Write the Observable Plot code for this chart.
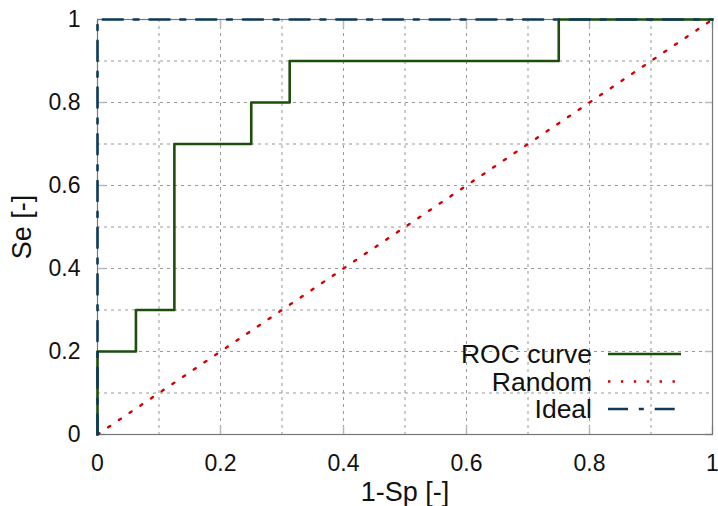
<!DOCTYPE html>
<html><head><meta charset="utf-8">
<script src="https://cdn.jsdelivr.net/npm/d3@7"></script>
<script src="https://cdn.jsdelivr.net/npm/@observablehq/plot@0.6"></script>
<style>
body{margin:0;background:#fff;font-family:"Liberation Sans",Arial,sans-serif;}
#wrap{position:relative;width:718px;height:506px;}
#legend{position:absolute;left:0;top:0;}
</style></head>
<body><div id="wrap"></div>
<script>
// ROC curve vertices (1-Sp, Se)
const rocX = [0, 0, 0.0625, 0.0625, 0.125, 0.125, 0.25, 0.25, 0.3125, 0.3125, 0.75, 0.75, 1];
const rocY = [0, 0.2, 0.2, 0.3, 0.3, 0.7, 0.7, 0.8, 0.8, 0.9, 0.9, 1, 1];
const randomX = [0, 1];
const randomY = [0, 1];
const idealX = [0, 0, 1];
const idealY = [0, 1, 1];
const majorTicks = [0, 0.2, 0.4, 0.6, 0.8, 1];
const gridTicks = [0.1, 0.2, 0.3, 0.4, 0.5, 0.6, 0.7, 0.8, 0.9];
const tickLabels = ["0", "0.2", "0.4", "0.6", "0.8", "1"];
const seriesNames = ["ROC curve", "Random", "Ideal"];
const xTitle = "1-Sp [-]";
const yTitle = "Se [-]";

const roc = rocX.map((x, i) => ({x, y: rocY[i]}));
const rnd = randomX.map((x, i) => ({x, y: randomY[i]}));
const ideal = idealX.map((x, i) => ({x, y: idealY[i]}));

const colors = {roc: "#1d4f0c", rnd: "#d40000", ideal: "#0c3a5a"};
const dashes = {roc: null, rnd: "2.4,10.5", ideal: "20,10.8,5,10.9"};
const fmt = d => tickLabels[majorTicks.indexOf(d)] ?? "";
const FONT = "Liberation Sans, Arial, sans-serif";

const chart = Plot.plot({
  width: 718, height: 506,
  marginLeft: 97, marginRight: 6, marginTop: 19, marginBottom: 72,
  x: {domain: [0, 1]},
  y: {domain: [0, 1]},
  style: {fontFamily: FONT, fontSize: "23px", color: "#111"},
  marks: [
    Plot.gridX(gridTicks, {stroke: "#999", strokeOpacity: 1, strokeWidth: 1, strokeDasharray: "3,4"}),
    Plot.gridY(gridTicks, {stroke: "#999", strokeOpacity: 1, strokeWidth: 1, strokeDasharray: "3,4"}),
    Plot.axisX(majorTicks, {anchor: "bottom", tickSize: 0, tickPadding: 20, tickFormat: fmt, label: null}),
    Plot.axisY(majorTicks, {anchor: "left", tickSize: 0, tickPadding: 17, tickFormat: fmt, label: null}),
    Plot.axisX(majorTicks, {anchor: "bottom", tickSize: -8, tickFormat: () => "", stroke: "#bbb", strokeWidth: 1.5, label: null}),
    Plot.axisX(majorTicks, {anchor: "top", tickSize: -8, tickFormat: () => "", stroke: "#bbb", strokeWidth: 1.5, label: null}),
    Plot.axisY(majorTicks, {anchor: "left", tickSize: -8, tickFormat: () => "", stroke: "#bbb", strokeWidth: 1.5, label: null}),
    Plot.axisY(majorTicks, {anchor: "right", tickSize: -8, tickFormat: () => "", stroke: "#bbb", strokeWidth: 1.5, label: null}),
    Plot.text([xTitle], {text: d => d, frameAnchor: "bottom", lineAnchor: "middle", textAnchor: "middle", dy: 58, fontSize: 27, fill: "#111"}),
    Plot.text([yTitle], {text: d => d, frameAnchor: "left", lineAnchor: "middle", textAnchor: "middle", dx: -75, rotate: -90, fontSize: 27, fill: "#111"}),
    Plot.frame({stroke: "#777", strokeWidth: 1.2}),
    Plot.line(rnd, {x: "x", y: "y", stroke: colors.rnd, strokeWidth: 2.4, strokeDasharray: dashes.rnd}),
    Plot.line(roc, {x: "x", y: "y", stroke: colors.roc, strokeWidth: 2.6}),
    Plot.line(ideal, {x: "x", y: "y", stroke: colors.ideal, strokeWidth: 2.6, strokeDasharray: dashes.ideal})
  ]
});
const wrap = document.getElementById("wrap");
wrap.appendChild(chart);

// Legend overlay
const legendRows = [
  {name: seriesNames[0], color: colors.roc, dash: dashes.roc, w: 2.6},
  {name: seriesNames[1], color: colors.rnd, dash: dashes.rnd, w: 2.4},
  {name: seriesNames[2], color: colors.ideal, dash: dashes.ideal, w: 2.6}
];
const svg = d3.select(wrap).append("svg").attr("id", "legend").attr("width", 718).attr("height", 506);
legendRows.forEach((r, i) => {
  const y = 354 + i * 27.5;
  svg.append("text").attr("x", 592).attr("y", y).attr("dy", "0.35em").attr("text-anchor", "end")
    .attr("font-size", 26.5).attr("font-family", FONT).attr("fill", "#111").text(r.name);
  const l = svg.append("line").attr("x1", 608).attr("x2", 681).attr("y1", y).attr("y2", y)
    .attr("stroke", r.color).attr("stroke-width", r.w);
  if (r.dash) l.attr("stroke-dasharray", r.dash);
});
</script></body></html>
